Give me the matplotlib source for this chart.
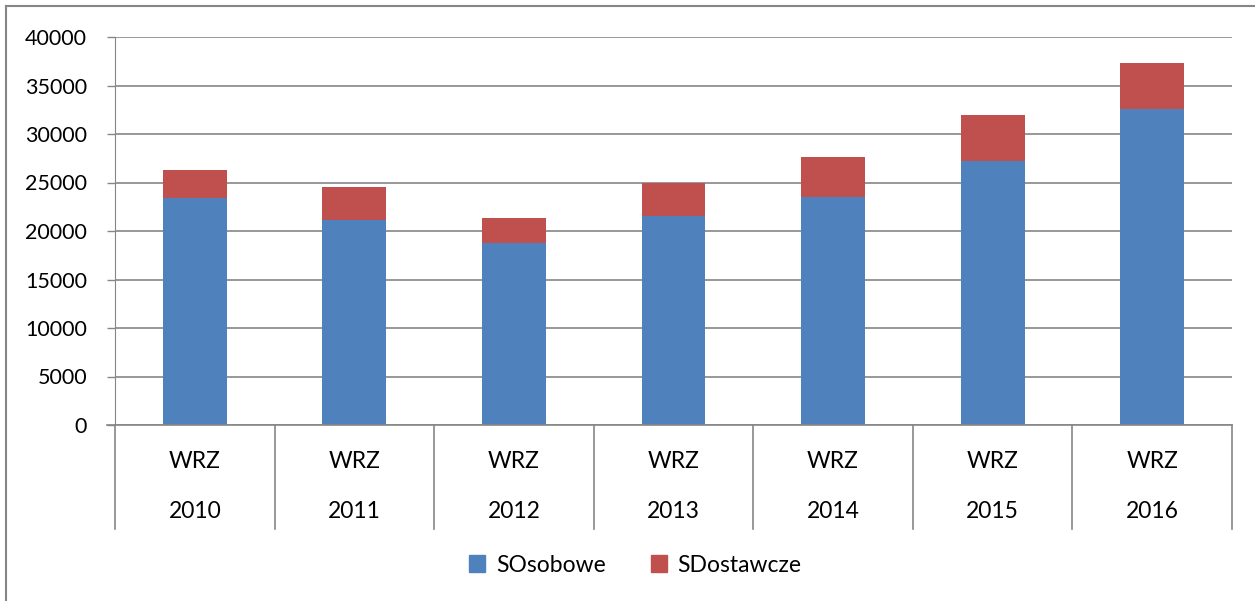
import matplotlib.pyplot as plt
from matplotlib.patches import Patch
from matplotlib.lines import Line2D

# data
years = ['2010', '2011', '2012', '2013', '2014', '2015', '2016']
group = 'WRZ'
osobowe = [23400, 21150, 18800, 21550, 23550, 27250, 32600]
dostawcze = [2900, 3400, 2550, 3450, 4100, 4700, 4700]

blue = '#4f81bd'
red = '#c0504d'
grey = '#868686'

plt.rcParams['font.family'] = ['Lato', 'DejaVu Sans']
plt.rcParams['font.size'] = 16.5

W, H = 1255, 601
fig = plt.figure(figsize=(W / 100, H / 100), dpi=100)
ax = fig.add_axes([115 / W, (H - 425) / H, (1232 - 115) / W, (425 - 37) / H])

x = [i + 0.5 for i in range(len(years))]
ax.bar(x, osobowe, width=0.4, color=blue, zorder=3)
ax.bar(x, dostawcze, width=0.4, bottom=osobowe, color=red, zorder=3)

ax.set_xlim(0, len(years))
ax.set_ylim(0, 40000)
ax.set_yticks(range(0, 40001, 5000))
ax.yaxis.grid(True, color=grey, linewidth=1.2, zorder=0)
ax.tick_params(axis='y', direction='out', length=6, width=1, color=grey,
               pad=14, labelsize=15.5)
ax.set_xticks([])
for s in ['top', 'right', 'bottom']:
    ax.spines[s].set_visible(False)
ax.spines['left'].set_color(grey)

# category axis with separators below the plot
trans = ax.get_xaxis_transform()
depth = (529 - 425) / (425 - 37)
ax.add_line(Line2D([-8 / (1232 - 115) * 7, 7], [0, 0], transform=trans,
                   color=grey, lw=1.2, clip_on=False, zorder=4))
for i in range(len(years) + 1):
    ax.add_line(Line2D([i, i], [0, -depth], transform=trans, color=grey,
                       lw=1.2, clip_on=False))
for xi, yr in zip(x, years):
    ax.text(xi, -(461 - 425) / 388, group, transform=trans, ha='center',
            va='center')
    ax.text(xi, -(511 - 425) / 388, yr, transform=trans, ha='center',
            va='center')

handles = [Patch(color=blue, label='SOsobowe'), Patch(color=red, label='SDostawcze')]
fig.legend(handles=handles, loc='center', bbox_to_anchor=(0.5 + 8 / W, 1 - 565 / H),
           ncol=2, frameon=False, handlelength=0.7, handleheight=0.7,
           handletextpad=0.45, columnspacing=2.0)

# outer chart border
fig.add_artist(Line2D([6 / W, 6 / W], [0, 1 - 6 / H], color=grey, lw=1.5))
fig.add_artist(Line2D([6 / W, 1], [1 - 6 / H, 1 - 6 / H], color=grey, lw=1.5))

fig.savefig('out.png', dpi=100)
